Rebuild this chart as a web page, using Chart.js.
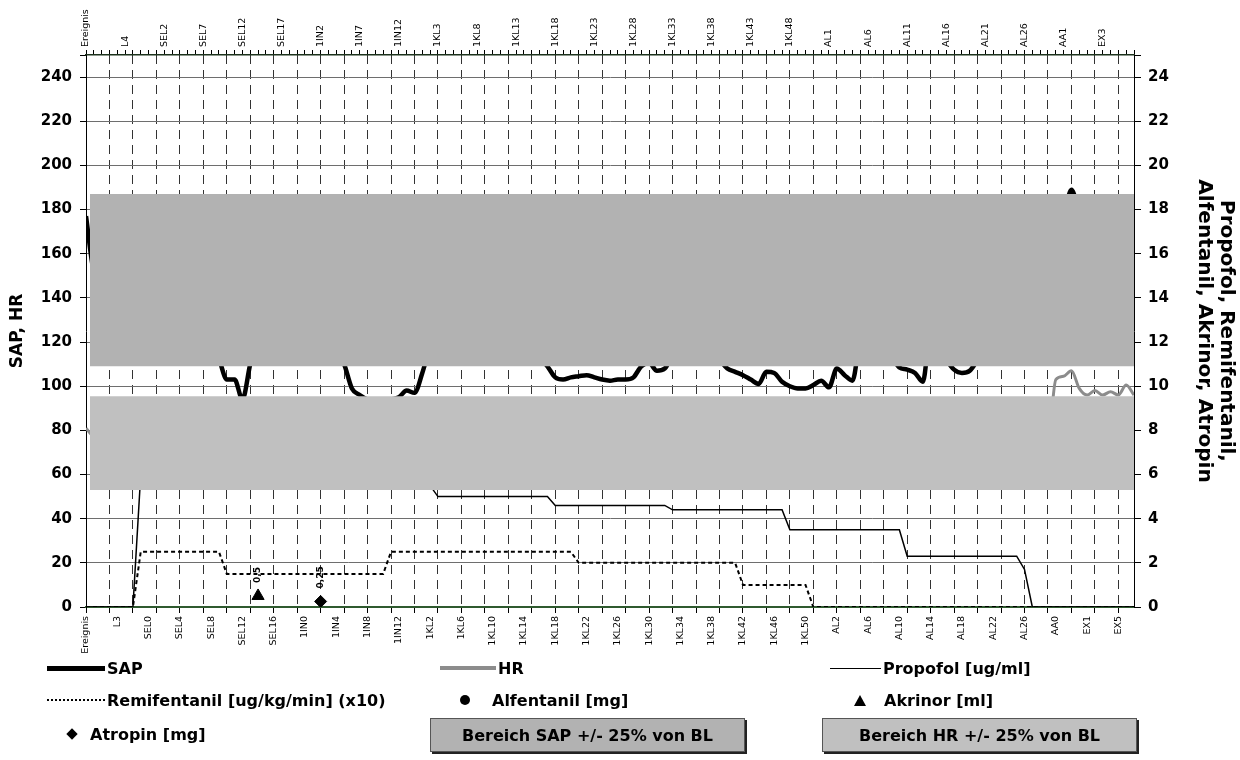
<!DOCTYPE html>
<html>
<head>
<meta charset="utf-8">
<script src="https://cdn.jsdelivr.net/npm/chart.js@4.4.1/dist/chart.umd.min.js"></script>
<style>
  body { margin: 0; background: #fff; font-family: "DejaVu Sans", sans-serif; }
  #wrap { position: relative; width: 1240px; height: 760px; }
  #chart { position: absolute; left: 0; top: 0; }
  .lg { position: absolute; display: flex; align-items: center; height: 22px; margin-top: -11px;
        font-weight: bold; font-size: 16px; color: #000; white-space: nowrap; }
  .smp { display: inline-block; margin-right: 2px; }
  .box { position: absolute; box-sizing: border-box; border: 1px solid #555; box-shadow: 2px 2px 0 #222;
         font-weight: bold; font-size: 16px; display: flex; align-items: center; justify-content: center; }
</style>
</head>
<body>
<div id="wrap">
  <canvas id="chart" width="1240" height="760"></canvas>
  <div id="legend"></div>
</div>
<script>
// Kategorien (Ereignisse)
const categories = [
  'Ereignis', 'L0', 'L1', 'L2', 'L3', 'L4', 'L5', 'L6',
  'SEL0', 'SEL1', 'SEL2', 'SEL3', 'SEL4', 'SEL5', 'SEL6', 'SEL7', 'SEL8', 'SEL9',
  'SEL10', 'SEL11', 'SEL12', 'SEL13', 'SEL14', 'SEL15', 'SEL16', 'SEL17', 'SEL18', 'SEL19',
  '1IN0', '1IN1', '1IN2', '1IN3', '1IN4', '1IN5', '1IN6', '1IN7', '1IN8', '1IN9',
  '1IN10', '1IN11', '1IN12', '1IN13',
  '1KL0', '1KL1', '1KL2', '1KL3', '1KL4', '1KL5', '1KL6', '1KL7', '1KL8', '1KL9',
  '1KL10', '1KL11', '1KL12', '1KL13', '1KL14', '1KL15', '1KL16', '1KL17', '1KL18', '1KL19',
  '1KL20', '1KL21', '1KL22', '1KL23', '1KL24', '1KL25', '1KL26', '1KL27', '1KL28', '1KL29',
  '1KL30', '1KL31', '1KL32', '1KL33', '1KL34', '1KL35', '1KL36', '1KL37', '1KL38', '1KL39',
  '1KL40', '1KL41', '1KL42', '1KL43', '1KL44', '1KL45', '1KL46', '1KL47', '1KL48', '1KL49',
  '1KL50', '1KL51',
  'AL0', 'AL1', 'AL2', 'AL3', 'AL4', 'AL5', 'AL6', 'AL7', 'AL8', 'AL9',
  'AL10', 'AL11', 'AL12', 'AL13', 'AL14', 'AL15', 'AL16', 'AL17', 'AL18', 'AL19',
  'AL20', 'AL21', 'AL22', 'AL23', 'AL24', 'AL25', 'AL26', 'AL27', 'AL28', 'AL29',
  'AA0', 'AA1', 'AA2',
  'EX0', 'EX1', 'EX2', 'EX3', 'EX4', 'EX5', 'EX6', 'EX7'
];

// SAP [mmHg] und HR [/min], linke Achse
const sap = [
  177, 152, 148, 150, 146, 142, 140, 136, 131, 127,
  125, 124, 122, 120, 118, 117, 115, 112, 103, 103,
  94, 110, 122, 130, 134, 131, 127, 125, 128, 126,
  122, 119, 116, 110, 99, 96, 94, 93, 93, 94,
  95, 98, 97, 106, 118, 126, 130, 128, 125, 127,
  124, 121, 123, 120, 118, 119, 117, 115, 113, 109,
  104, 103, 104, 104.5, 105, 104, 103, 102.5, 103, 103,
  104, 109, 110.5, 107, 108, 114, 118, 121, 119, 117,
  115, 112, 108, 106.5, 105, 103, 101, 106.5, 106, 102,
  100, 99, 99, 100.5, 102.5, 99.5, 108, 105, 102.5, 121,
  124, 120, 117, 113, 108.5, 107.5, 106, 102, 125, 118,
  112, 107.5, 106, 107, 112, 118, 122, 126, 130, 133,
  138, 142, 150, 158, 165, 176, 189, 178, 170, 165,
  160, 158, 156, 152, 150
];
const hr = [
  81, 77, 76, 78, 75, 74, 72, 70, 68, 66,
  65, 66, 64, 63, 65, 64, 62, 63, 61, 60,
  62, 64, 67, 70, 72, 69, 67, 66, 68, 70,
  73, 76, 74, 72, 70, 69, 67, 66, 65, 64,
  66, 65, 63, 64, 66, 68, 67, 65, 64, 63,
  62, 63, 62, 61, 62, 60, 61, 60, 59, 60,
  61, 60, 59, 60, 61, 60, 59, 60, 61, 62,
  61, 60, 62, 63, 62, 61, 60, 61, 62, 61,
  60, 61, 62, 63, 62, 61, 62, 64, 63, 62,
  61, 62, 63, 64, 65, 64, 63, 64, 66, 65,
  64, 65, 66, 67, 66, 65, 66, 68, 67, 66,
  67, 68, 69, 70, 69, 70, 72, 74, 76, 78,
  80, 82, 80, 76, 103, 104.5, 107, 99, 96, 98,
  96, 97.5, 96, 100.5, 96
];

// Medikamente, rechte Achse
const propofol = [
  0, 0, 0, 0, 0, 0, 0, 6, 6, 6,
  6, 6, 6, 6, 6, 6, 6, 6, 6, 6,
  6, 6, 6, 6, 6, 6, 6, 6, 6, 6,
  6, 6, 6, 6, 6, 6, 6, 6, 6, 6,
  6, 6, 6, 6, 5.5, 5, 5, 5, 5, 5,
  5, 5, 5, 5, 5, 5, 5, 5, 5, 5,
  4.6, 4.6, 4.6, 4.6, 4.6, 4.6, 4.6, 4.6, 4.6, 4.6,
  4.6, 4.6, 4.6, 4.6, 4.6, 4.4, 4.4, 4.4, 4.4, 4.4,
  4.4, 4.4, 4.4, 4.4, 4.4, 4.4, 4.4, 4.4, 4.4, 4.4,
  3.5, 3.5, 3.5, 3.5, 3.5, 3.5, 3.5, 3.5, 3.5, 3.5,
  3.5, 3.5, 3.5, 3.5, 3.5, 2.3, 2.3, 2.3, 2.3, 2.3,
  2.3, 2.3, 2.3, 2.3, 2.3, 2.3, 2.3, 2.3, 2.3, 2.3,
  1.7, 0, 0, 0, 0, 0, 0, 0, 0, 0,
  0, 0, 0, 0, 0
];
const remifentanil = [
  0, 0, 0, 0, 0, 0, 0, 2.5, 2.5, 2.5,
  2.5, 2.5, 2.5, 2.5, 2.5, 2.5, 2.5, 2.5, 1.5, 1.5,
  1.5, 1.5, 1.5, 1.5, 1.5, 1.5, 1.5, 1.5, 1.5, 1.5,
  1.5, 1.5, 1.5, 1.5, 1.5, 1.5, 1.5, 1.5, 1.5, 2.5,
  2.5, 2.5, 2.5, 2.5, 2.5, 2.5, 2.5, 2.5, 2.5, 2.5,
  2.5, 2.5, 2.5, 2.5, 2.5, 2.5, 2.5, 2.5, 2.5, 2.5,
  2.5, 2.5, 2.5, 2, 2, 2, 2, 2, 2, 2,
  2, 2, 2, 2, 2, 2, 2, 2, 2, 2,
  2, 2, 2, 2, 1, 1, 1, 1, 1, 1,
  1, 1, 1, 0, 0, 0, 0, 0, 0, 0,
  0, 0, 0, 0, 0, 0, 0, 0, 0, 0,
  0, 0, 0, 0, 0, 0, 0, 0, 0, 0,
  0, 0, 0, 0, 0, 0, 0, 0, 0, 0,
  0, 0, 0, 0, 0
];
const alfentanilAt = [];
const alfentanilDose = [];
const akrinorAt = ['SEL14'];
const akrinorDose = [0.5];
const atropinAt = ['1IN2'];
const atropinDose = [0.25];

// Bereiche +/- 25% von BL
const sapRange = [109, 187];
const hrRange = [53, 95.5];
const rangeSpan = [0.5, categories.length - 1];

const toPoints = arr => arr.map((y, i) => ({ x: i, y: y }));
const atPoints = (names, doses) => names.map((n, i) => ({ x: categories.indexOf(n), y: doses[i] }));
const bandPoints = (value) => rangeSpan.map(x => ({ x: x, y: value }));

const FONT = '"DejaVu Sans", sans-serif';
const CAT_SIZE = 9.5;
const allTicks = scale => { scale.ticks = categories.map((c, i) => ({ value: i })); };

// Dosis-Beschriftungen (0,5 / 0,25)
const doseLabels = {
  id: 'doseLabels',
  afterDatasetsDraw(chart) {
    const ctx = chart.ctx;
    chart.data.datasets.forEach((ds, di) => {
      if (!ds.doseLabel) return;
      chart.getDatasetMeta(di).data.forEach((pt, i) => {
        ctx.save();
        ctx.translate(pt.x, pt.y - 13);
        ctx.rotate(-Math.PI / 2);
        ctx.font = 'bold 9px ' + FONT;
        ctx.fillStyle = '#000';
        ctx.textAlign = 'left';
        ctx.textBaseline = 'middle';
        ctx.fillText(String(ds.data[i].y).replace('.', ','), 0, 0);
        ctx.restore();
      });
    });
  }
};

const ctx = document.getElementById('chart').getContext('2d');
const chart = new Chart(ctx, {
  type: 'line',
  data: {
    datasets: [
      {
        label: 'Bereich SAP +/- 25% von BL',
        data: bandPoints(sapRange[1]),
        yAxisID: 'y', xAxisID: 'x',
        borderWidth: 0, pointRadius: 0,
        backgroundColor: '#b2b2b2',
        fill: { value: sapRange[0] },
        order: 1
      },
      {
        label: 'Bereich HR +/- 25% von BL',
        data: bandPoints(hrRange[1]),
        yAxisID: 'y', xAxisID: 'x',
        borderWidth: 0, pointRadius: 0,
        backgroundColor: '#c0c0c0',
        fill: { value: hrRange[0] },
        order: 1
      },
      {
        label: 'HR',
        data: toPoints(hr),
        yAxisID: 'y', xAxisID: 'x',
        borderColor: '#8c8c8c', borderWidth: 3,
        pointRadius: 0, cubicInterpolationMode: 'monotone',
        order: 3
      },
      {
        label: 'SAP',
        data: toPoints(sap),
        yAxisID: 'y', xAxisID: 'x',
        borderColor: '#000', borderWidth: 4.5,
        pointRadius: 0, cubicInterpolationMode: 'monotone',
        order: 2
      },
      {
        label: 'Propofol [ug/ml]',
        data: toPoints(propofol),
        yAxisID: 'y2', xAxisID: 'x',
        borderColor: '#000', borderWidth: 1.5,
        pointRadius: 0, tension: 0,
        order: 2
      },
      {
        label: 'Remifentanil [ug/kg/min] (x10)',
        data: toPoints(remifentanil),
        yAxisID: 'y2', xAxisID: 'x',
        borderColor: '#000', borderWidth: 2, borderDash: [4, 3],
        pointRadius: 0, tension: 0,
        order: 0
      },
      {
        label: 'Alfentanil [mg]',
        data: atPoints(alfentanilAt, alfentanilDose),
        yAxisID: 'y2', xAxisID: 'x',
        showLine: false, pointStyle: 'circle', pointRadius: 5,
        backgroundColor: '#000', borderColor: '#000',
        order: 0
      },
      {
        label: 'Akrinor [ml]',
        data: atPoints(akrinorAt, akrinorDose),
        yAxisID: 'y2', xAxisID: 'x',
        showLine: false, pointStyle: 'triangle', pointRadius: 7,
        backgroundColor: '#000', borderColor: '#000',
        doseLabel: true,
        order: 0
      },
      {
        label: 'Atropin [mg]',
        data: atPoints(atropinAt, atropinDose),
        yAxisID: 'y2', xAxisID: 'x',
        showLine: false, pointStyle: 'rectRot', pointRadius: 6,
        backgroundColor: '#000', borderColor: '#000',
        doseLabel: true,
        order: 0
      }
    ]
  },
  options: {
    responsive: false,
    animation: false,
    layout: { padding: 0 },
    plugins: { legend: { display: false }, tooltip: { enabled: false } },
    scales: {
      x: {
        type: 'linear', position: 'bottom',
        min: 0, max: categories.length - 1,
        afterBuildTicks: allTicks,
        afterFit: s => { s.height = 153; },
        ticks: {
          autoSkip: false, minRotation: 90, maxRotation: 90, padding: 3,
          color: '#000', font: { family: FONT, size: CAT_SIZE },
          callback: v => (v % 4 === 0 ? categories[v] : '')
        },
        grid: {
          color: c => (c.tick && c.tick.value % 3 === 0 && c.tick.value > 0 && c.tick.value < categories.length - 1) ? '#333' : 'rgba(0,0,0,0)',
          tickColor: c => (c.tick && c.tick.value % 3 === 0) ? '#000' : 'rgba(0,0,0,0)',
          tickLength: 6, lineWidth: 1
        },
        border: { color: '#2f5a2f', width: 2, dash: [9, 6] }
      },
      x2: {
        type: 'linear', position: 'top',
        min: 0, max: categories.length - 1,
        afterBuildTicks: allTicks,
        afterFit: s => { s.height = 55; },
        ticks: {
          autoSkip: false, minRotation: 90, maxRotation: 90, padding: 3,
          labelOffset: CAT_SIZE * 1.2,
          color: '#000', font: { family: FONT, size: CAT_SIZE },
          callback: v => (v % 5 === 0 ? categories[v] : '')
        },
        grid: { drawOnChartArea: false, color: '#000', tickLength: 5 },
        border: { color: '#1d331d', width: 1.5 }
      },
      y: {
        type: 'linear', position: 'left',
        min: 0, max: 250,
        afterFit: s => { s.width = 86; },
        ticks: {
          stepSize: 20, padding: 8, color: '#000',
          font: { family: FONT, size: 15, weight: 'bold' },
          callback: v => (v > 240 ? '' : v)
        },
        grid: {
          color: c => (c.tick && c.tick.value > 0 && c.tick.value <= 240) ? '#6e6e6e' : 'rgba(0,0,0,0)',
          tickColor: '#000', tickLength: 6
        },
        border: { color: '#000', width: 1 },
        title: {
          display: true, text: 'SAP, HR', color: '#000',
          font: { family: FONT, size: 17, weight: 'bold' },
          padding: { top: 7, bottom: 0 }
        }
      },
      y2: {
        type: 'linear', position: 'right',
        min: 0, max: 25,
        afterFit: s => { s.width = 106; },
        ticks: {
          stepSize: 2, padding: 7, color: '#000',
          font: { family: FONT, size: 15, weight: 'bold' },
          callback: v => (v > 24 ? '' : v)
        },
        grid: { drawOnChartArea: false, color: '#000', tickLength: 7 },
        border: { color: '#000', width: 1 },
        title: {
          display: true,
          text: ['Propofol, Remifentanil,', 'Alfentanil, Akrinor, Atropin'],
          color: '#000',
          font: { family: FONT, size: 20, weight: 'bold', lineHeight: 1.1 },
          padding: { top: 3, bottom: 0 }
        }
      }
    }
  },
  plugins: [doseLabels]
});

// Legende (HTML)
const legendItems = [
  { ds: 'SAP', x: 47, y: 668, sample: 'width:58px;border-top:5px solid #000;' },
  { ds: 'HR', x: 440, y: 668, sample: 'width:56px;border-top:4px solid #8c8c8c;' },
  { ds: 'Propofol [ug/ml]', x: 830, y: 668, sample: 'width:51px;border-top:1.5px solid #000;' },
  { ds: 'Remifentanil [ug/kg/min] (x10)', x: 47, y: 700, sample: 'width:58px;border-top:2px dotted #000;' },
  { ds: 'Alfentanil [mg]', x: 460, y: 700, sample: 'width:10px;height:10px;border-radius:50%;background:#000;margin-right:22px;' },
  { ds: 'Akrinor [ml]', x: 854, y: 700, sample: 'width:0;height:0;border-left:6px solid transparent;border-right:6px solid transparent;border-bottom:11px solid #000;margin-right:18px;' },
  { ds: 'Atropin [mg]', x: 68, y: 734, sample: 'width:8px;height:8px;background:#000;transform:rotate(45deg);margin-right:14px;' }
];
const boxes = [
  { ds: 'Bereich SAP +/- 25% von BL', x: 430, y: 718, w: 315, h: 34, bg: '#b2b2b2' },
  { ds: 'Bereich HR +/- 25% von BL', x: 822, y: 718, w: 315, h: 34, bg: '#c0c0c0' }
];
const legendEl = document.getElementById('legend');
legendItems.forEach(it => {
  const d = document.createElement('div');
  d.className = 'lg';
  d.style.left = it.x + 'px';
  d.style.top = it.y + 'px';
  d.innerHTML = '<span class="smp" style="' + it.sample + '"></span><span></span>';
  d.lastChild.textContent = it.ds;
  legendEl.appendChild(d);
});
boxes.forEach(b => {
  const d = document.createElement('div');
  d.className = 'box';
  d.style.left = b.x + 'px'; d.style.top = b.y + 'px';
  d.style.width = b.w + 'px'; d.style.height = b.h + 'px';
  d.style.background = b.bg;
  d.textContent = b.ds;
  legendEl.appendChild(d);
});
</script>
</body>
</html>
